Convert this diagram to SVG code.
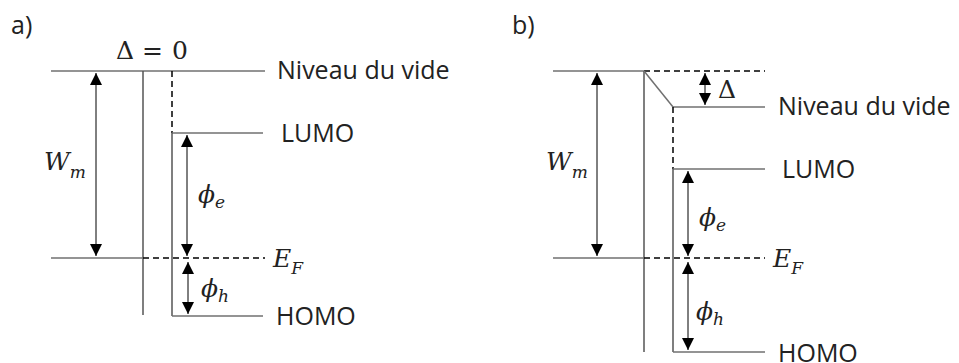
<svg xmlns="http://www.w3.org/2000/svg" width="959" height="363" viewBox="0 0 959 363">
<style>
.lvl{stroke:#707070;stroke-width:1.5;fill:none}
.ax{stroke:#555;stroke-width:1.5;fill:none}
.dash{stroke:#000;stroke-width:1.5;stroke-dasharray:6,4;fill:none}
.arr{stroke:#000;stroke-width:1;fill:none;marker-start:url(#ah);marker-end:url(#ah)}
.t{font-family:"Open Sans","Noto Sans",sans-serif;font-size:25px;fill:#222}
.m{font-family:"DejaVu Serif","Liberation Serif",serif;font-style:italic;font-size:25px;fill:#222}
.s{font-size:17px}
.u{font-family:"DejaVu Serif","Liberation Serif",serif;font-size:25px;fill:#222}
</style>
<defs>
<marker id="ah" markerUnits="userSpaceOnUse" markerWidth="12" markerHeight="12" refX="10" refY="5" viewBox="0 0 10 10" orient="auto-start-reverse">
<path d="M0,0 L10,5 L0,10 z" fill="#000"/>
</marker>
</defs>
<rect width="959" height="363" fill="#fff"/>
<g id="panel-a">
<text class="t" x="11" y="34">a)</text>
<g id="delta0"><text class="u" x="116" y="59">Δ</text><text class="u" x="142" y="59">=</text><text class="u" x="172" y="59">0</text></g>
<g id="a-lines">
<line class="lvl" x1="51" y1="71" x2="265" y2="71"/>
<line class="ax" x1="143" y1="71" x2="143" y2="315"/>
<line class="dash" x1="172" y1="71" x2="172" y2="133"/>
<line class="lvl" x1="172" y1="133" x2="263" y2="133"/>
<line class="ax" x1="172" y1="133" x2="172" y2="316"/>
<line class="lvl" x1="172" y1="316" x2="263" y2="316"/>
<line class="lvl" x1="51" y1="258" x2="143" y2="258"/>
<line class="dash" x1="143" y1="258" x2="265" y2="258"/>
</g>
<g id="a-arrows">
<line class="arr" x1="96" y1="73" x2="96" y2="256"/>
<line class="arr" x1="187" y1="135" x2="187" y2="256"/>
<line class="arr" x1="188" y1="262" x2="188" y2="314"/>
</g>
<text class="t" x="277" y="79">Niveau du vide</text>
<text class="t" x="281" y="142">LUMO</text>
<text class="t" x="276" y="325">HOMO</text>
<text class="m" x="273" y="267">E<tspan class="s" dy="7">F</tspan></text>
<text class="m" x="44" y="170">W<tspan class="s" dy="8">m</tspan></text>
<text class="m" x="198" y="203">ϕ<tspan class="s" dy="5">e</tspan></text>
<text class="m" x="201" y="297">ϕ<tspan class="s" dy="5">h</tspan></text>
</g>
<g id="panel-b">
<text class="t" x="512" y="34">b)</text>
<g id="b-lines">
<line class="lvl" x1="553" y1="71" x2="644" y2="71"/>
<line class="dash" x1="644" y1="71" x2="765" y2="71"/>
<line class="ax" x1="644" y1="71" x2="644" y2="352"/>
<line class="lvl" x1="644" y1="71" x2="673" y2="107"/>
<line class="lvl" x1="673" y1="107" x2="765" y2="107"/>
<line class="dash" x1="673" y1="107" x2="673" y2="169"/>
<line class="lvl" x1="673" y1="169" x2="765" y2="169"/>
<line class="ax" x1="673" y1="169" x2="673" y2="352"/>
<line class="lvl" x1="673" y1="352" x2="765" y2="352"/>
<line class="lvl" x1="553" y1="258" x2="644" y2="258"/>
<line class="dash" x1="644" y1="258" x2="765" y2="258"/>
</g>
<g id="b-arrows">
<line class="arr" x1="597" y1="73" x2="597" y2="256"/>
<line class="arr" x1="705" y1="73" x2="705" y2="105"/>
<line class="arr" x1="688" y1="171" x2="688" y2="256"/>
<line class="arr" x1="688" y1="262" x2="688" y2="350"/>
</g>
<text class="u" x="718" y="98">Δ</text>
<text class="t" x="778" y="115">Niveau du vide</text>
<text class="t" x="782" y="178">LUMO</text>
<text class="t" x="778" y="362">HOMO</text>
<text class="m" x="773" y="267">E<tspan class="s" dy="7">F</tspan></text>
<text class="m" x="546" y="170">W<tspan class="s" dy="8">m</tspan></text>
<text class="m" x="699" y="226">ϕ<tspan class="s" dy="5">e</tspan></text>
<text class="m" x="696" y="320">ϕ<tspan class="s" dy="5">h</tspan></text>
</g>
</svg>
